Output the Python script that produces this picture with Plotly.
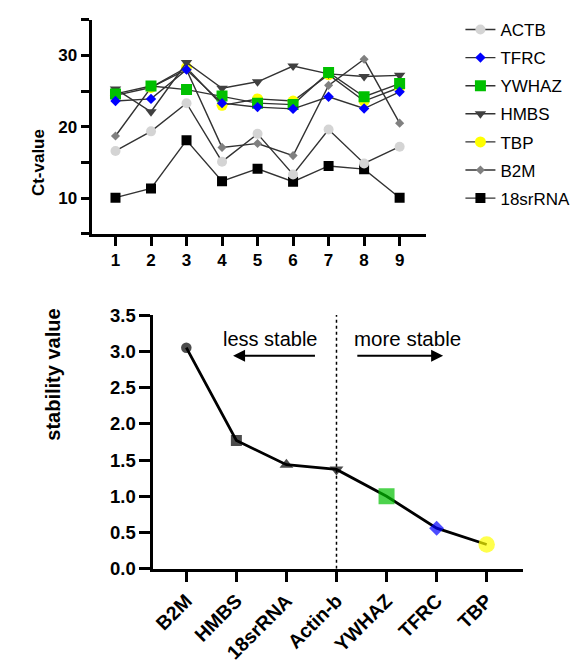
import plotly.graph_objects as go

# ---------- data: top chart (Ct-values) ----------
samples = [1, 2, 3, 4, 5, 6, 7, 8, 9]
ACTB = [16.6, 19.35, 23.3, 15.1, 19.0, 13.3, 19.6, 14.85, 17.2]
TFRC = [23.6, 23.9, 28.0, 23.3, 22.75, 22.5, 24.2, 22.55, 24.9]
YWHAZ = [24.6, 25.7, 25.2, 24.3, 23.3, 23.1, 27.6, 24.2, 26.05]
HMBS = [25.3, 22.1, 29.0, 25.4, 26.3, 28.5, 27.4, 27.05, 27.2]
TBP = [24.4, 25.5, 28.3, 23.0, 23.9, 23.6, 27.3, 23.6, 25.5]
B2M = [18.7, 25.5, 28.0, 17.1, 17.65, 15.95, 25.8, 29.45, 20.5]
rRNA18s = [10.05, 11.35, 18.1, 12.35, 14.1, 12.3, 14.5, 14.05, 10.05]

# ---------- data: bottom chart (stability values) ----------
genes = ["B2M", "HMBS", "18srRNA", "Actin-b", "YWHAZ", "TFRC", "TBP"]
stability = [3.05, 1.77, 1.435, 1.37, 1.0, 0.56, 0.335]

FW, FH = 584, 663


def PX(p):
    return p / FW


def PY(p):
    return 1 - p / FH


LINE = "#333333"
FONT = "Liberation Sans, Arial, sans-serif"

series = [
    ("ACTB", ACTB, "circle", "#d4d4d4", 10),
    ("TFRC", TFRC, "diamond", "#0000ff", 8),
    ("YWHAZ", YWHAZ, "square", "#00c000", 11),
    ("HMBS", HMBS, "triangle-down", "#404040", 10),
    ("TBP", TBP, "circle", "#ffff00", 11),
    ("B2M", B2M, "diamond", "#808080", 7),
    ("18srRNA", rRNA18s, "square", "#000000", 10),
]

fig = go.Figure()
for rank, (name, vals, sym, col, sz) in reversed(list(enumerate(series))):
    fig.add_trace(go.Scatter(
        x=samples, y=vals, name=name, mode="lines+markers",
        line=dict(color=LINE, width=1.4),
        marker=dict(symbol=sym, color=col, size=sz, line=dict(width=0)),
        xaxis="x", yaxis="y", legendgroup=name, legendrank=rank + 1,
    ))

marker_sym = ["circle", "square", "triangle-up", "triangle-down", "square", "diamond", "circle"]
marker_col = ["#000000", "#000000", "#000000", "#000000", "#00c000", "#0000ff", "#ffff00"]
marker_sz = [10.5, 11, 12, 12, 16, 11.5, 16.5]
fig.add_trace(go.Scatter(
    x=genes, y=stability, mode="lines+markers", showlegend=False,
    line=dict(color="#000000", width=2.8),
    marker=dict(symbol=marker_sym, color=marker_col, size=marker_sz, line=dict(width=0)),
    xaxis="x2", yaxis="y2",
))


def axis_common(size, tl):
    return dict(
        showline=True, linecolor="#000000", linewidth=3,
        ticks="outside", ticklen=tl, tickwidth=2.5, tickcolor="#000000",
        showgrid=False, zeroline=False,
        tickfont=dict(family=FONT, size=size, color="#000000", weight="bold"),
    )


fig.update_layout(
    width=FW, height=FH, margin=dict(l=0, r=0, t=0, b=0),
    paper_bgcolor="white", plot_bgcolor="white",
    font=dict(family=FONT, color="#000000"),
    xaxis=dict(axis_common(17, 9), domain=[PX(90), PX(425)], range=[0.33, 9.73],
               tickvals=samples, anchor="y"),
    yaxis=dict(axis_common(17, 8), domain=[PY(230), PY(9)], range=[5, 35],
               tickvals=[5, 10, 15, 20, 25, 30, 35],
               ticktext=["", "10", "", "20", "", "30", ""], anchor="x"),
    xaxis2=dict(axis_common(19.5, 10), domain=[PX(152), PX(523)], range=[-0.656, 6.73],
                type="category", tickangle=-45, anchor="y2"),
    yaxis2=dict(axis_common(18.5, 11), domain=[PY(576), PY(314)], range=[0, 3.5],
                dtick=0.5, tickformat=".1f", anchor="x2"),
    legend=dict(x=PX(460), y=PY(1), xanchor="left", yanchor="top",
                traceorder="grouped", tracegroupgap=3,
                font=dict(family=FONT, size=17, color="#000000"),
                bgcolor="rgba(0,0,0,0)"),
)

# axis titles
fig.add_annotation(xref="paper", yref="paper", x=PX(25), y=PY(120), text="<b>Ct-value</b>",
                   textangle=-90, showarrow=False, font=dict(family=FONT, size=17))
fig.add_annotation(xref="paper", yref="paper", x=PX(38), y=PY(446), text="<b>stability value</b>",
                   textangle=-90, showarrow=False, font=dict(family=FONT, size=20))

# dashed divider at Actin-b
fig.add_shape(type="line", xref="x2", yref="y2", x0="Actin-b", x1="Actin-b",
              y0=0, y1=3.5, line=dict(color="#000000", width=1.5, dash="3px,3px"))

# labels and arrows
fig.add_annotation(xref="x2", yref="y2", x=1.686, y=3.17, text="less stable",
                   showarrow=False, font=dict(family=FONT, size=20))
fig.add_annotation(xref="x2", yref="y2", x=4.42, y=3.17, text="more stable",
                   showarrow=False, font=dict(family=FONT, size=20.5))
fig.add_annotation(xref="x2", yref="y2", x=0.934, y=2.94, axref="x2", ayref="y2",
                   ax=2.60, ay=2.94, text="", showarrow=True, arrowhead=2,
                   arrowsize=1.2, arrowwidth=2, arrowcolor="#000000")
fig.add_annotation(xref="x2", yref="y2", x=5.13, y=2.94, axref="x2", ayref="y2",
                   ax=3.386, ay=2.94, text="", showarrow=True, arrowhead=2,
                   arrowsize=1.2, arrowwidth=2, arrowcolor="#000000")

fig.write_html(
    "out.html",
    config={"displayModeBar": False},
    post_script="document.body.style.margin='0';document.body.style.overflow='hidden';",
)
